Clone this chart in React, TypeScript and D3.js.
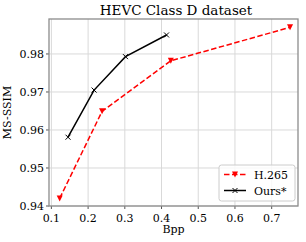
import { useEffect, useRef } from "react";
import * as d3 from "d3";

const h265Bpp = [0.1226, 0.238, 0.4253, 0.75];
const h265Ssim = [0.942, 0.9649, 0.9782, 0.987];
const oursBpp = [0.1453, 0.2163, 0.3018, 0.4136];
const oursSsim = [0.9581, 0.9705, 0.9793, 0.985];
const xTicks = [0.1, 0.2, 0.3, 0.4, 0.5, 0.6, 0.7];
const yTicks = [0.94, 0.95, 0.96, 0.97, 0.98];

const App = () => {
  const ref = useRef<SVGSVGElement>(null);

  useEffect(() => {
    const svg = d3.select(ref.current);
    svg.selectAll("*").remove();
    const font = "DejaVu Serif";
    const left = 49,
      right = 298,
      top = 19,
      bottom = 206;

    const x = d3.scaleLinear().domain([0.0935, 0.7717]).range([left, right]);
    const y = d3.scaleLinear().domain([0.94, 0.9892]).range([bottom, top]);

    svg
      .append("rect")
      .attr("width", 306)
      .attr("height", 242)
      .attr("fill", "white");

    // grid
    const grid = svg.append("g");
    xTicks.forEach((t) => {
      grid
        .append("line")
        .attr("x1", x(t))
        .attr("x2", x(t))
        .attr("y1", top)
        .attr("y2", bottom)
        .attr("stroke", "#d9d9d9")
        .attr("stroke-width", 1);
    });
    yTicks.forEach((t) => {
      grid
        .append("line")
        .attr("x1", left)
        .attr("x2", right)
        .attr("y1", y(t))
        .attr("y2", y(t))
        .attr("stroke", "#d9d9d9")
        .attr("stroke-width", 1);
    });

    // tick labels
    xTicks.forEach((t) => {
      svg
        .append("text")
        .attr("x", x(t))
        .attr("y", bottom + 16)
        .attr("text-anchor", "middle")
        .style("font-family", font)
        .style("font-size", "11px")
        .text(d3.format(".1f")(t));
      svg
        .append("line")
        .attr("x1", x(t))
        .attr("x2", x(t))
        .attr("y1", bottom)
        .attr("y2", bottom + 3)
        .attr("stroke", "#555");
    });
    yTicks.forEach((t) => {
      svg
        .append("text")
        .attr("x", left - 5)
        .attr("y", y(t) + 4)
        .attr("text-anchor", "end")
        .style("font-family", font)
        .style("font-size", "11px")
        .text(d3.format(".2f")(t));
      svg
        .append("line")
        .attr("x1", left - 3)
        .attr("x2", left)
        .attr("y1", y(t))
        .attr("y2", y(t))
        .attr("stroke", "#555");
    });

    // frame
    svg
      .append("rect")
      .attr("x", left)
      .attr("y", top)
      .attr("width", right - left)
      .attr("height", bottom - top)
      .attr("fill", "none")
      .attr("stroke", "#8c8c8c")
      .attr("stroke-width", 1.3);

    const line = d3
      .line<[number, number]>()
      .x((d) => x(d[0]))
      .y((d) => y(d[1]));

    const h265: [number, number][] = h265Bpp.map((b, i) => [b, h265Ssim[i]]);
    const ours: [number, number][] = oursBpp.map((b, i) => [b, oursSsim[i]]);

    const tri = (g: any, cx: number, cy: number, s: number) => {
      g.append("path")
        .attr("d", `M${cx - s},${cy - s}L${cx + s},${cy - s}L${cx},${cy + s}Z`)
        .attr("fill", "red");
    };
    const cross = (g: any, cx: number, cy: number, s: number) => {
      g.append("path")
        .attr("d", `M${cx - s},${cy - s}L${cx + s},${cy + s}M${cx - s},${cy + s}L${cx + s},${cy - s}`)
        .attr("stroke", "black")
        .attr("stroke-width", 1);
    };

    const gH = svg.append("g");
    gH.append("path")
      .attr("d", line(h265) as string)
      .attr("fill", "none")
      .attr("stroke", "red")
      .attr("stroke-width", 1.5)
      .attr("stroke-dasharray", "5.5,2.5");
    h265.forEach((d) => tri(gH, x(d[0]), y(d[1]), 3));

    const gO = svg.append("g");
    gO.append("path")
      .attr("d", line(ours) as string)
      .attr("fill", "none")
      .attr("stroke", "black")
      .attr("stroke-width", 1.5);
    ours.forEach((d) => cross(gO, x(d[0]), y(d[1]), 2.5));

    // title & labels
    svg
      .append("text")
      .attr("x", 176)
      .attr("y", 15)
      .attr("text-anchor", "middle")
      .style("font-family", font)
      .style("font-size", "13.5px")
      .text("HEVC Class D dataset");
    svg
      .append("text")
      .attr("x", (left + right) / 2)
      .attr("y", 233)
      .attr("text-anchor", "middle")
      .style("font-family", font)
      .style("font-size", "11px")
      .text("Bpp");
    svg
      .append("text")
      .attr("transform", `translate(11,${(top + bottom) / 2}) rotate(-90)`)
      .attr("text-anchor", "middle")
      .style("font-family", font)
      .style("font-size", "11px")
      .text("MS-SSIM");

    // legend
    const lg = svg.append("g").attr("transform", "translate(219,165)");
    lg.append("rect")
      .attr("width", 76)
      .attr("height", 36)
      .attr("rx", 2.5)
      .attr("fill", "white")
      .attr("fill-opacity", 0.8)
      .attr("stroke", "#cccccc");
    lg.append("line")
      .attr("x1", 5)
      .attr("x2", 27)
      .attr("y1", 9.5)
      .attr("y2", 9.5)
      .attr("stroke", "red")
      .attr("stroke-width", 1.5)
      .attr("stroke-dasharray", "5.5,2.5");
    tri(lg, 16, 9.5, 3);
    lg.append("line")
      .attr("x1", 5)
      .attr("x2", 27)
      .attr("y1", 25.5)
      .attr("y2", 25.5)
      .attr("stroke", "black")
      .attr("stroke-width", 1.5);
    cross(lg, 16, 25.5, 2.5);
    ["H.265", "Ours*"].forEach((s, i) => {
      lg.append("text")
        .attr("x", 35)
        .attr("y", 13.5 + i * 16)
        .style("font-family", font)
        .style("font-size", "11px")
        .text(s);
    });
  }, []);

  return (
    <svg
      ref={ref}
      width={306}
      height={242}
      style={{ position: "absolute", left: 0, top: 0 }}
    />
  );
};

export default App;
